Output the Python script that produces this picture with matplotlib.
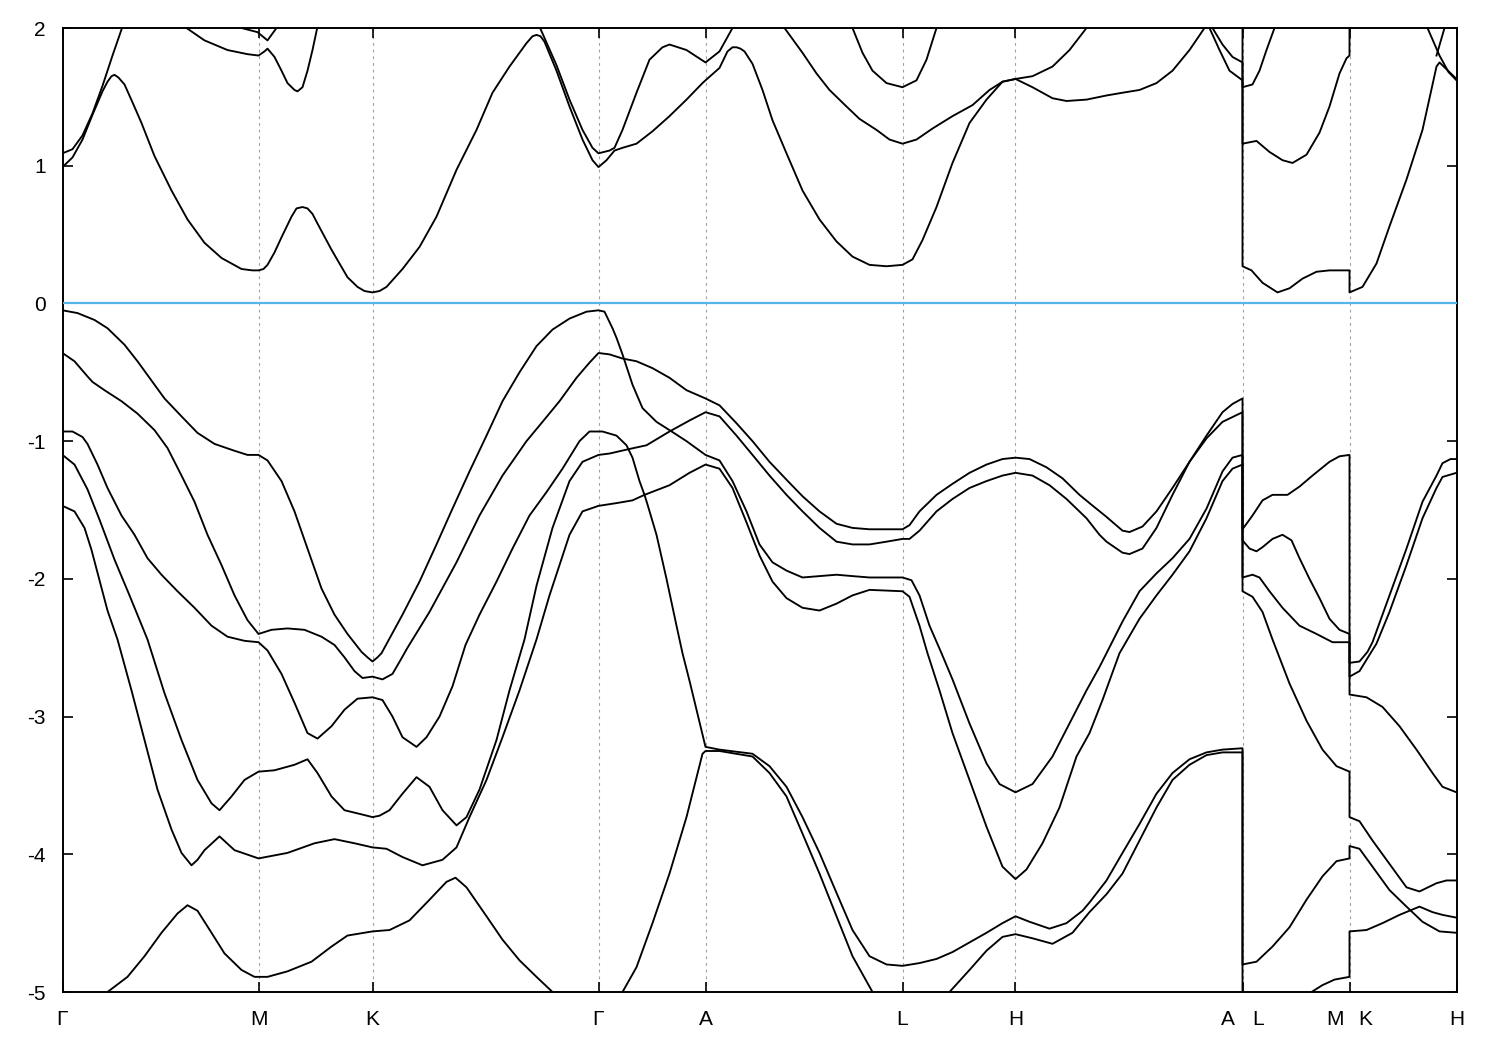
import numpy as np
import matplotlib
matplotlib.use("Agg")
import matplotlib.pyplot as plt

plt.rcParams['font.family'] = ['Liberation Sans', 'DejaVu Sans']
plt.rcParams['axes.unicode_minus'] = False

# high-symmetry points along the path (arbitrary path units)
kpts = [0.0, 1.96, 3.10, 5.36, 6.43, 8.40, 9.53, 11.80, 12.87, 13.94]
klabels = ['Γ', 'M', 'K', 'Γ', 'A', 'L', 'H', ('A', 'L'), ('M', 'K'), 'H']
yticks = [-5, -4, -3, -2, -1, 0, 1, 2]
fermi = 0.0

# ---- conduction bands: (k, E[eV]) ----
c1 = [(0.00,0.99),(0.10,1.06),(0.20,1.19),(0.30,1.37),(0.40,1.54),(0.45,1.61),(0.49,1.65),(0.52,1.66),
      (0.56,1.64),(0.62,1.59),(0.70,1.46),(0.79,1.31),(0.92,1.07),(1.09,0.82),(1.25,0.61),(1.42,0.44),
      (1.59,0.33),(1.79,0.25),(1.90,0.24),(1.96,0.24),(2.01,0.25),(2.05,0.28),(2.12,0.37),(2.19,0.48),
      (2.29,0.63),(2.34,0.69),(2.40,0.70),(2.45,0.69),(2.50,0.65),(2.55,0.58),(2.69,0.39),(2.85,0.19),
      (2.95,0.12),(3.02,0.09),(3.10,0.08),(3.17,0.09),(3.24,0.12),(3.40,0.25),(3.57,0.41),(3.74,0.63),
      (3.94,0.97),(4.14,1.26),(4.30,1.53),(4.47,1.72),(4.64,1.89),(4.70,1.94),(4.74,1.95),(4.78,1.94),
      (4.82,1.90),(4.94,1.69),(5.07,1.43),(5.20,1.19),(5.30,1.04),(5.36,0.99),(5.44,1.04),(5.52,1.11),
      (5.60,1.13),(5.74,1.16),(5.90,1.25),(6.07,1.36),(6.24,1.48),(6.40,1.60),(6.43,1.62),(6.57,1.71),
      (6.65,1.83),(6.70,1.86),(6.74,1.86),(6.78,1.85),(6.82,1.83),(6.90,1.74),(7.00,1.55),(7.10,1.33),
      (7.24,1.09),(7.40,0.82),(7.57,0.61),(7.74,0.45),(7.90,0.34),(8.07,0.28),(8.24,0.27),(8.40,0.28),
      (8.50,0.32),(8.60,0.46),(8.74,0.70),(8.90,1.02),(9.07,1.31),(9.24,1.48),(9.40,1.61),(9.53,1.63),
      (9.70,1.65),(9.90,1.72),(10.07,1.84),(10.24,2.00),(10.30,2.06)]
c2 = [(0.00,1.09),(0.10,1.12),(0.20,1.22),(0.30,1.38),(0.40,1.58),(0.50,1.80),(0.60,2.01),(0.62,2.05)]
c3 = [(1.15,2.06),(1.22,2.01),(1.42,1.91),(1.65,1.84),(1.85,1.81),(1.96,1.80),(2.02,1.83),(2.05,1.85),
      (2.12,1.79),(2.19,1.69),(2.25,1.60),(2.32,1.55),(2.35,1.54),(2.40,1.57),(2.45,1.69),(2.50,1.84),
      (2.55,2.01),(2.57,2.06)]
c4 = [(1.70,2.05),(1.79,2.00),(1.95,1.97),(2.05,1.91),(2.14,2.00),(2.17,2.05)]
c5 = [(4.75,2.05),(4.77,2.01),(4.94,1.73),(5.07,1.48),(5.20,1.26),(5.30,1.13),(5.36,1.09),(5.47,1.11),
      (5.52,1.13),(5.60,1.26),(5.74,1.53),(5.87,1.77),(6.00,1.86),(6.07,1.88),(6.24,1.84),(6.43,1.75),
      (6.50,1.79),(6.57,1.83),(6.70,2.00),(6.73,2.05)]
c6 = [(7.19,2.05),(7.22,2.00),(7.40,1.82),(7.54,1.67),(7.67,1.55),(7.84,1.43),(7.97,1.34),(8.14,1.26),
      (8.27,1.19),(8.40,1.16),(8.54,1.19),(8.70,1.27),(8.90,1.36),(9.10,1.44),(9.27,1.55),(9.40,1.61),
      (9.53,1.63),(9.70,1.57),(9.90,1.49),(10.04,1.47),(10.24,1.48),(10.44,1.51),(10.60,1.53),
      (10.77,1.55),(10.94,1.60),(11.10,1.69),(11.27,1.84),(11.42,2.00),(11.45,2.05)]
c7 = [(7.89,2.05),(7.90,2.00),(8.00,1.82),(8.10,1.69),(8.24,1.60),(8.40,1.57),(8.54,1.62),(8.64,1.77),
      (8.74,2.00),(8.75,2.05)]
c8 = [(11.49,2.05),(11.50,2.00),(11.60,1.88),(11.70,1.79),(11.80,1.75),(11.80,1.16),(11.94,1.18),
      (12.07,1.10),(12.20,1.04),(12.30,1.02),(12.44,1.08),(12.57,1.24),(12.67,1.43),(12.77,1.67),
      (12.84,1.78),(12.87,1.80),(12.87,2.10)]
c9 = [(11.45,2.05),(11.47,2.00),(11.57,1.84),(11.67,1.69),(11.80,1.62),(11.80,0.27),(11.89,0.24),
      (12.00,0.15),(12.15,0.08),(12.27,0.11),(12.40,0.18),(12.54,0.23),(12.67,0.24),(12.87,0.24),
      (12.87,0.08),(13.00,0.12),(13.14,0.29),(13.27,0.56),(13.44,0.90),(13.60,1.26),(13.74,1.72),
      (13.77,1.75),(13.94,1.63)]
c10 = [(11.80,2.10),(11.80,1.57),(11.90,1.59),(11.97,1.69),(12.04,1.84),(12.12,2.00),(12.13,2.05)]
c11 = [(13.63,2.05),(13.65,2.00),(13.77,1.80),(13.86,1.68),(13.94,1.62)]
c12 = [(13.84,2.05),(13.82,2.00),(13.74,1.80)]

# ---- valence bands ----
v1 = [(0.00,-0.05),(0.15,-0.07),(0.32,-0.12),(0.45,-0.18),(0.62,-0.30),(0.75,-0.42),(0.89,-0.56),
      (1.02,-0.69),(1.19,-0.82),(1.35,-0.94),(1.52,-1.02),(1.72,-1.07),(1.85,-1.10),(1.96,-1.10),
      (2.05,-1.14),(2.19,-1.29),(2.32,-1.51),(2.45,-1.78),(2.59,-2.07),(2.72,-2.26),(2.85,-2.40),
      (2.99,-2.53),(3.05,-2.57),(3.10,-2.60),(3.15,-2.57),(3.19,-2.54),(3.40,-2.26),(3.57,-2.02),
      (3.74,-1.75),(3.90,-1.49),(4.07,-1.22),(4.24,-0.96),(4.40,-0.71),(4.57,-0.50),(4.74,-0.31),
      (4.90,-0.19),(5.07,-0.11),(5.24,-0.06),(5.36,-0.05),(5.42,-0.06),(5.50,-0.18),(5.54,-0.25),
      (5.60,-0.37),(5.70,-0.59),(5.80,-0.76),(5.94,-0.86),(6.07,-0.92),(6.24,-1.00),(6.43,-1.10),
      (6.57,-1.14),(6.70,-1.29),(6.84,-1.51),(6.97,-1.75),(7.10,-1.88),(7.24,-1.94),(7.40,-1.99),
      (7.57,-1.98),(7.74,-1.97),(7.90,-1.98),(8.07,-1.99),(8.40,-1.99),(8.49,-2.01),(8.57,-2.12),
      (8.67,-2.34),(8.79,-2.54),(8.90,-2.73),(9.07,-3.05),(9.24,-3.34),(9.37,-3.49),(9.53,-3.55),
      (9.70,-3.49),(9.90,-3.29),(10.07,-3.05),(10.24,-2.81),(10.37,-2.64),(10.44,-2.54),(10.60,-2.31),
      (10.77,-2.09),(10.94,-1.96),(11.10,-1.85),(11.27,-1.71),(11.44,-1.49),(11.60,-1.22),(11.70,-1.12),
      (11.80,-1.10),(11.80,-1.99),(11.90,-1.97),(11.97,-1.99),(12.07,-2.09),(12.20,-2.21),(12.37,-2.34),
      (12.54,-2.40),(12.70,-2.46),(12.87,-2.46),(12.87,-2.84),(13.04,-2.86),(13.20,-2.93),(13.37,-3.07),
      (13.54,-3.24),(13.70,-3.41),(13.80,-3.51),(13.94,-3.55)]
v2 = [(0.00,-0.36),(0.12,-0.42),(0.25,-0.53),(0.30,-0.57),(0.42,-0.63),(0.59,-0.71),(0.75,-0.80),
      (0.92,-0.92),(1.05,-1.05),(1.19,-1.25),(1.32,-1.44),(1.45,-1.68),(1.59,-1.90),(1.72,-2.12),
      (1.85,-2.30),(1.96,-2.40),(2.09,-2.37),(2.25,-2.36),(2.42,-2.37),(2.59,-2.42),(2.72,-2.48),
      (2.82,-2.57),(2.92,-2.67),(3.00,-2.72),(3.10,-2.71),(3.20,-2.73),(3.30,-2.69),(3.38,-2.59),
      (3.45,-2.50),(3.67,-2.24),(3.94,-1.88),(4.17,-1.54),(4.40,-1.25),(4.64,-1.00),(4.80,-0.86),
      (4.97,-0.71),(5.14,-0.54),(5.27,-0.43),(5.36,-0.36),(5.47,-0.37),(5.60,-0.40),(5.74,-0.42),
      (5.90,-0.47),(6.07,-0.54),(6.24,-0.63),(6.43,-0.69),(6.57,-0.74),(6.74,-0.87),(6.90,-1.00),
      (7.07,-1.15),(7.24,-1.28),(7.40,-1.40),(7.57,-1.51),(7.74,-1.60),(7.90,-1.63),(8.07,-1.64),
      (8.40,-1.64),(8.47,-1.61),(8.57,-1.51),(8.74,-1.39),(8.90,-1.31),(9.07,-1.23),(9.24,-1.17),
      (9.40,-1.13),(9.53,-1.12),(9.67,-1.13),(9.84,-1.19),(10.00,-1.27),(10.17,-1.39),(10.27,-1.45),
      (10.44,-1.55),(10.60,-1.65),(10.67,-1.66),(10.80,-1.62),(10.94,-1.51),(11.10,-1.34),(11.27,-1.15),
      (11.44,-0.96),(11.60,-0.79),(11.70,-0.73),(11.80,-0.69),(11.80,-1.64),(11.90,-1.54),(12.00,-1.43),
      (12.10,-1.39),(12.25,-1.39),(12.37,-1.33),(12.50,-1.25),(12.67,-1.15),(12.77,-1.11),(12.87,-1.10),
      (12.87,-2.61),(12.97,-2.60),(13.05,-2.53),(13.10,-2.46),(13.27,-2.12),(13.44,-1.78),(13.60,-1.44),
      (13.74,-1.25),(13.80,-1.16),(13.88,-1.13),(13.94,-1.13)]
v3 = [(0.00,-0.93),(0.10,-0.93),(0.20,-0.97),(0.25,-1.02),(0.35,-1.17),(0.45,-1.34),(0.59,-1.54),
      (0.72,-1.68),(0.85,-1.85),(0.99,-1.97),(1.15,-2.09),(1.32,-2.21),(1.49,-2.34),(1.65,-2.42),
      (1.82,-2.45),(1.96,-2.46),(2.05,-2.52),(2.19,-2.69),(2.32,-2.90),(2.45,-3.12),(2.55,-3.16),
      (2.69,-3.07),(2.82,-2.95),(2.95,-2.87),(3.10,-2.86),(3.20,-2.88),(3.30,-3.00),(3.40,-3.15),
      (3.54,-3.22),(3.64,-3.15),(3.77,-3.00),(3.90,-2.78),(4.03,-2.48),(4.17,-2.26),(4.34,-2.02),
      (4.50,-1.78),(4.67,-1.54),(4.84,-1.37),(5.00,-1.20),(5.17,-1.00),(5.27,-0.93),(5.36,-0.93),
      (5.40,-0.93),(5.54,-0.96),(5.64,-1.03),(5.70,-1.12),(5.77,-1.29),(5.82,-1.39),(5.85,-1.46),
      (5.94,-1.68),(6.04,-2.00),(6.14,-2.34),(6.20,-2.54),(6.27,-2.74),(6.34,-2.95),(6.43,-3.22),
      (6.57,-3.24),(6.90,-3.27),(7.07,-3.36),(7.24,-3.51),(7.40,-3.73),(7.57,-3.99),(7.74,-4.28),
      (7.90,-4.55),(8.07,-4.74),(8.24,-4.80),(8.40,-4.81),(8.57,-4.79),(8.74,-4.76),(8.90,-4.71),
      (9.07,-4.64),(9.24,-4.57),(9.40,-4.50),(9.53,-4.45),(9.67,-4.49),(9.87,-4.54),(10.04,-4.50),
      (10.20,-4.41),(10.27,-4.35),(10.44,-4.19),(10.60,-3.99),(10.77,-3.78),(10.94,-3.56),(11.10,-3.41),
      (11.27,-3.31),(11.44,-3.26),(11.60,-3.24),(11.80,-3.23),(11.80,-4.80),(11.94,-4.78),(12.10,-4.67),
      (12.27,-4.53),(12.44,-4.33),(12.60,-4.16),(12.74,-4.05),(12.87,-4.03),(12.87,-3.94),(12.97,-3.96),
      (13.10,-4.09),(13.27,-4.26),(13.44,-4.38),(13.60,-4.49),(13.77,-4.56),(13.94,-4.57)]
v3b = [(5.55,-5.40),(5.60,-5.00),(5.74,-4.82),(5.90,-4.50),(6.07,-4.14),(6.24,-3.73),(6.40,-3.27),
       (6.43,-3.25),(6.57,-3.25),(6.90,-3.29),(7.07,-3.41),(7.24,-3.58),(7.40,-3.85),(7.57,-4.14),
       (7.74,-4.45),(7.90,-4.74),(8.10,-5.00),(8.22,-5.13),(8.67,-5.13),(8.87,-5.00),(9.07,-4.84),
       (9.24,-4.70),(9.40,-4.60),(9.53,-4.58),(9.70,-4.61),(9.90,-4.65),(10.10,-4.57),(10.27,-4.42),
       (10.44,-4.29),(10.60,-4.14),(10.77,-3.90),(10.94,-3.66),(11.10,-3.46),(11.27,-3.35),(11.44,-3.28),
       (11.60,-3.26),(11.80,-3.26),(11.80,-5.40),(12.00,-5.30),(12.49,-5.00),(12.60,-4.95),(12.72,-4.91),
       (12.87,-4.89),(12.87,-4.56),(13.04,-4.55),(13.20,-4.50),(13.37,-4.44),(13.47,-4.41),(13.57,-4.38),
       (13.70,-4.42),(13.80,-4.44),(13.94,-4.46)]
v4 = [(0.00,-1.10),(0.12,-1.17),(0.25,-1.35),(0.37,-1.57),(0.52,-1.86),(0.67,-2.12),(0.85,-2.44),
      (1.02,-2.83),(1.19,-3.17),(1.35,-3.46),(1.49,-3.63),(1.57,-3.68),(1.69,-3.58),(1.82,-3.46),
      (1.96,-3.40),(2.12,-3.39),(2.32,-3.35),(2.45,-3.31),(2.55,-3.41),(2.69,-3.58),(2.82,-3.68),
      (2.99,-3.71),(3.10,-3.73),(3.17,-3.72),(3.27,-3.68),(3.40,-3.56),(3.54,-3.44),(3.67,-3.51),
      (3.80,-3.68),(3.94,-3.79),(4.04,-3.73),(4.17,-3.53),(4.34,-3.17),(4.47,-2.81),(4.62,-2.44),
      (4.74,-2.05),(4.90,-1.63),(5.07,-1.29),(5.20,-1.15),(5.36,-1.10),(5.47,-1.09),(5.65,-1.06),
      (5.84,-1.03),(6.07,-0.93),(6.27,-0.85),(6.43,-0.79),(6.57,-0.82),(6.74,-0.96),(6.90,-1.10),
      (7.07,-1.25),(7.24,-1.39),(7.40,-1.51),(7.57,-1.63),(7.74,-1.73),(7.90,-1.75),(8.07,-1.75),
      (8.24,-1.73),(8.40,-1.71),(8.47,-1.71),(8.57,-1.65),(8.74,-1.51),(8.90,-1.42),(9.07,-1.34),
      (9.24,-1.29),(9.40,-1.25),(9.53,-1.23),(9.70,-1.25),(9.87,-1.32),(10.04,-1.42),(10.24,-1.56),
      (10.37,-1.68),(10.44,-1.73),(10.60,-1.81),(10.67,-1.82),(10.80,-1.78),(10.94,-1.63),(11.10,-1.39),
      (11.27,-1.15),(11.44,-0.98),(11.60,-0.86),(11.80,-0.79),(11.80,-1.72),(11.87,-1.78),(11.94,-1.80),
      (12.00,-1.77),(12.10,-1.71),(12.20,-1.68),(12.29,-1.72),(12.37,-1.85),(12.47,-2.00),(12.57,-2.14),
      (12.67,-2.29),(12.77,-2.37),(12.87,-2.40),(12.87,-2.71),(12.97,-2.67),(13.14,-2.47),(13.27,-2.24),
      (13.44,-1.90),(13.60,-1.56),(13.74,-1.34),(13.80,-1.26),(13.94,-1.23)]
v5 = [(0.00,-1.47),(0.12,-1.51),(0.22,-1.63),(0.29,-1.79),(0.37,-2.01),(0.45,-2.23),(0.55,-2.44),
      (0.69,-2.81),(0.82,-3.17),(0.95,-3.53),(1.09,-3.82),(1.19,-3.99),(1.29,-4.08),(1.35,-4.04),
      (1.42,-3.97),(1.57,-3.87),(1.72,-3.97),(1.96,-4.03),(2.25,-3.99),(2.52,-3.92),(2.72,-3.89),
      (2.92,-3.92),(3.10,-3.95),(3.24,-3.96),(3.40,-4.02),(3.60,-4.08),(3.80,-4.04),(3.94,-3.95),
      (4.07,-3.73),(4.24,-3.46),(4.40,-3.15),(4.57,-2.81),(4.74,-2.44),(4.87,-2.12),(5.07,-1.68),
      (5.20,-1.51),(5.36,-1.47),(5.54,-1.45),(5.70,-1.43),(5.82,-1.39),(6.07,-1.32),(6.27,-1.23),
      (6.43,-1.17),(6.57,-1.20),(6.70,-1.34),(6.84,-1.59),(6.97,-1.83),(7.10,-2.02),(7.24,-2.14),
      (7.40,-2.21),(7.57,-2.23),(7.74,-2.18),(7.90,-2.12),(8.07,-2.08),(8.40,-2.09),(8.47,-2.13),
      (8.57,-2.34),(8.65,-2.54),(8.77,-2.81),(8.90,-3.12),(9.07,-3.46),(9.24,-3.80),(9.40,-4.09),
      (9.53,-4.18),(9.64,-4.11),(9.80,-3.92),(9.97,-3.66),(10.14,-3.29),(10.27,-3.12),(10.40,-2.88),
      (10.57,-2.54),(10.77,-2.29),(10.94,-2.12),(11.10,-1.97),(11.27,-1.80),(11.44,-1.56),(11.60,-1.29),
      (11.70,-1.20),(11.80,-1.17),(11.80,-2.09),(11.90,-2.13),(12.00,-2.24),(12.10,-2.44),(12.27,-2.76),
      (12.44,-3.03),(12.60,-3.24),(12.74,-3.36),(12.87,-3.40),(12.87,-3.73),(12.97,-3.76),(13.10,-3.90),
      (13.27,-4.07),(13.44,-4.24),(13.57,-4.27),(13.74,-4.21),(13.84,-4.19),(13.94,-4.19)]
vlow = [(0.32,-5.13),(0.45,-5.00),(0.65,-4.89),(0.82,-4.74),(0.99,-4.57),(1.15,-4.43),(1.25,-4.37),
        (1.35,-4.41),(1.49,-4.57),(1.62,-4.72),(1.79,-4.84),(1.92,-4.89),(2.05,-4.89),(2.25,-4.85),
        (2.49,-4.78),(2.69,-4.67),(2.85,-4.59),(3.10,-4.56),(3.27,-4.55),(3.47,-4.48),(3.67,-4.33),
        (3.84,-4.20),(3.93,-4.17),(4.04,-4.24),(4.24,-4.45),(4.40,-4.62),(4.57,-4.77),(4.74,-4.89),
        (4.90,-5.00),(5.02,-5.10)]

bands = [c1, c2, c3, c4, c5, c6, c7, c8, c9, c10, c11, c12, v1, v2, v3, v3b, v4, v5, vlow]

W, H = 1500, 1050
fig = plt.figure(figsize=(W / 100, H / 100), dpi=100)
x0, x1, y0, y1 = 62.5, 1456.5, 28.0, 992.0
ax = fig.add_axes([x0 / W, 1 - y1 / H, (x1 - x0) / W, (y1 - y0) / H])

for kx in kpts[1:-1]:
    ax.axvline(kx, color='#a0a0a0', lw=0.8, ls=(0, (2.5, 3.5)), zorder=0)

for b in bands:
    k, e = np.array(b).T
    ax.plot(k, e, color='black', lw=1.35, solid_joinstyle='round', zorder=2)

ax.axhline(fermi, color='#56b4e9', lw=1.6, zorder=3)

ax.set_xlim(kpts[0], kpts[-1])
ax.set_ylim(yticks[0], yticks[-1])
ax.set_xticks(kpts)
ax.set_xticklabels([])
ax.set_yticks(yticks)
ax.set_yticklabels([str(v) for v in yticks])
ax.tick_params(axis='both', direction='in', length=7, width=1.2, top=True, right=True,
               labelsize=15)
ax.tick_params(axis='y', pad=12)
for s in ax.spines.values():
    s.set_linewidth(1.4)

fs = 15
trans = ax.get_xaxis_transform()
for kx, lab in zip(kpts, klabels):
    if isinstance(lab, tuple):
        ax.text(kx - 0.15, -0.029, lab[0], transform=trans, ha='center', va='center', fontsize=fs)
        ax.text(kx + 0.16, -0.029, lab[1], transform=trans, ha='center', va='center', fontsize=fs)
    else:
        ax.text(kx, -0.029, lab, transform=trans, ha='center', va='center', fontsize=fs)

fig.savefig('out.png', dpi=100)
